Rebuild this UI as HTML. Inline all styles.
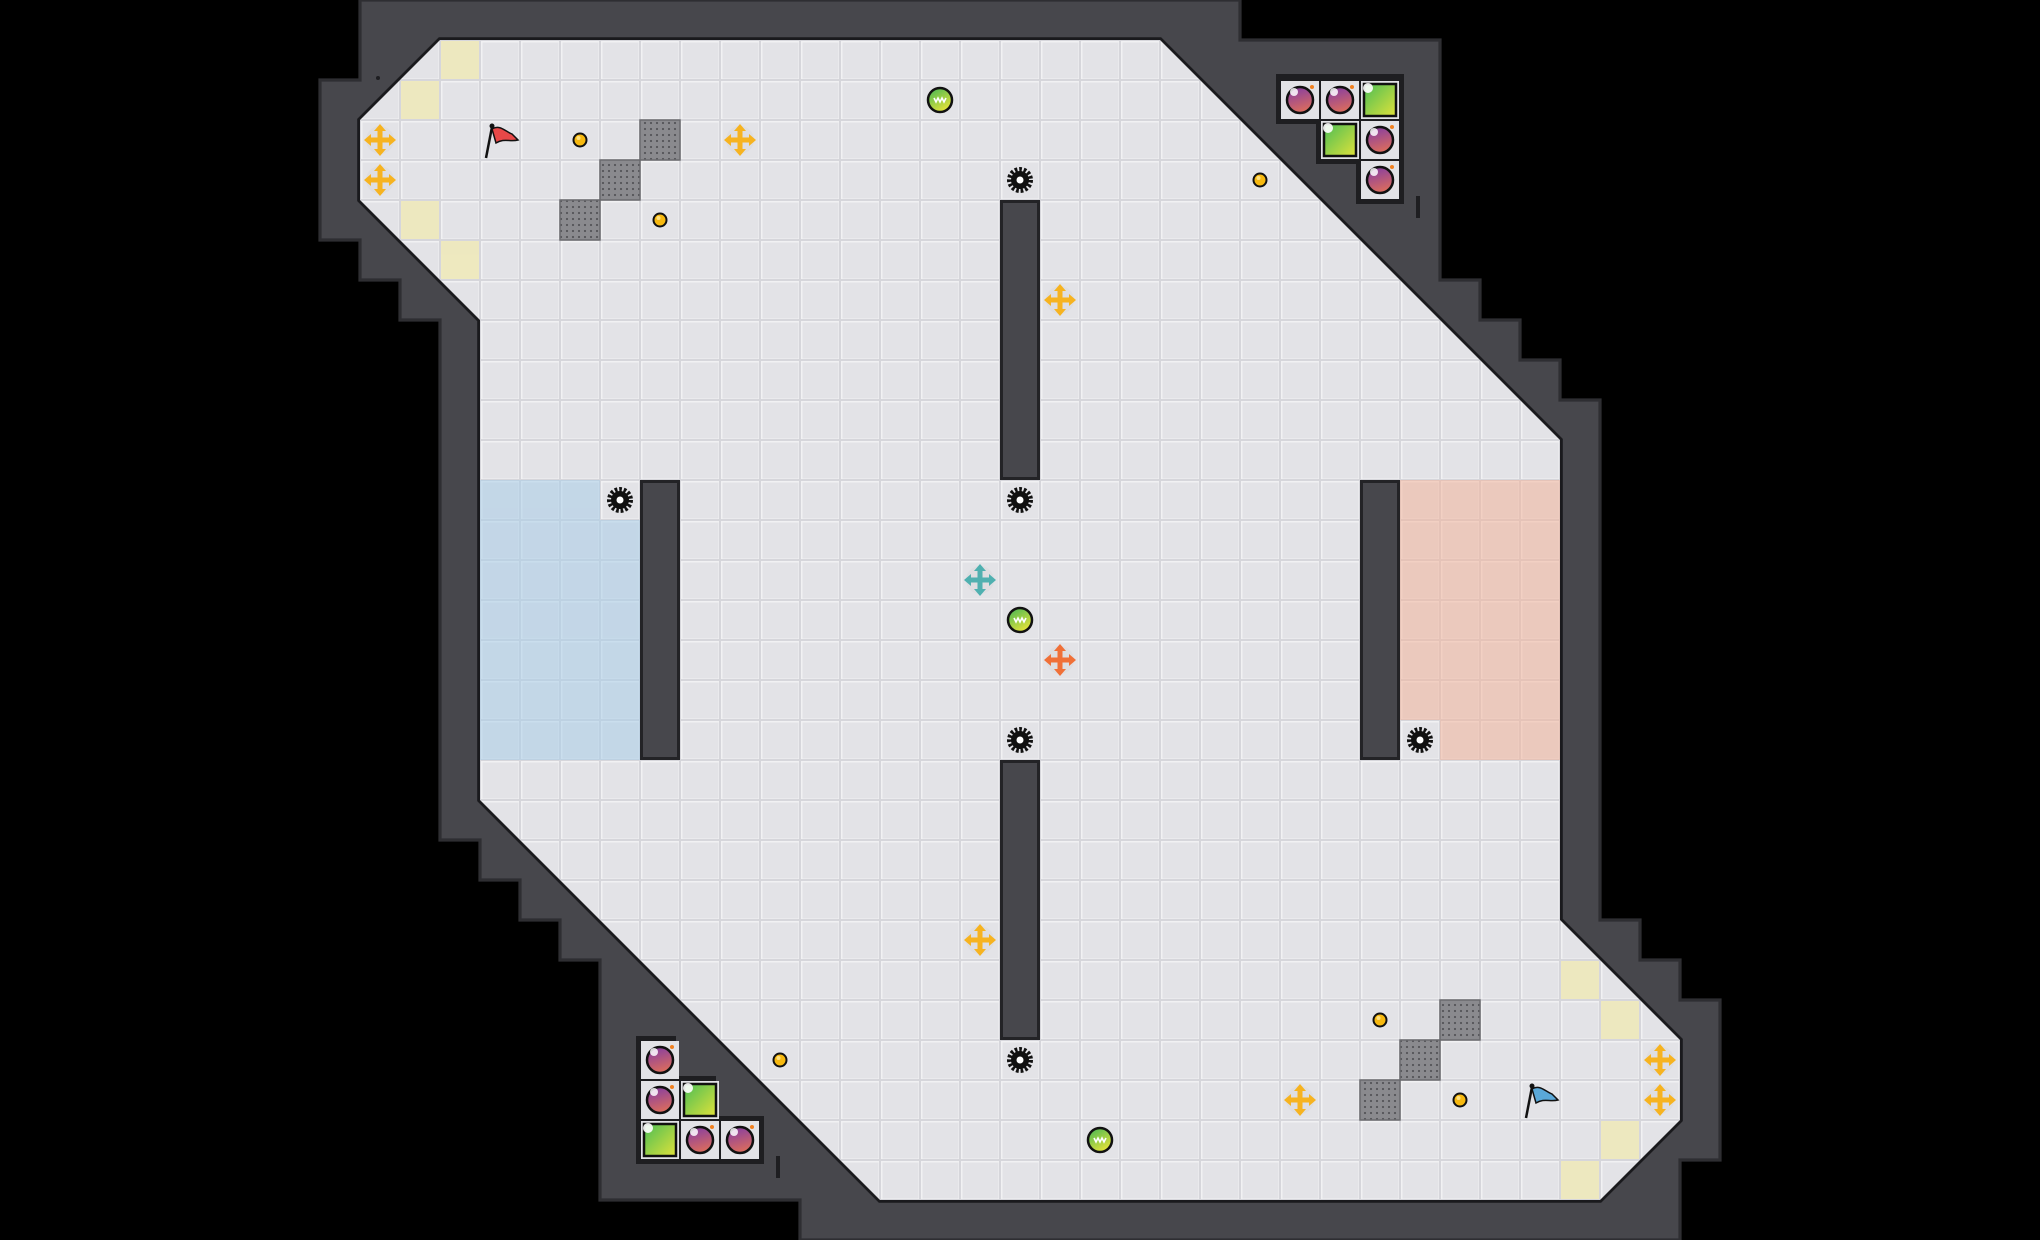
<!DOCTYPE html>
<html><head><meta charset="utf-8"><style>html,body{margin:0;padding:0;background:#000;}svg{display:block}</style></head>
<body>
<svg width="2040" height="1240" viewBox="0 0 2040 1240" xmlns="http://www.w3.org/2000/svg">
<defs>
  <pattern id="tile" width="40" height="40" patternUnits="userSpaceOnUse">
    <rect width="40" height="40" fill="#d6d6db"/>
    <rect x="1" y="1" width="38" height="38" fill="#f1f1f3"/>
    <rect x="2.5" y="2.5" width="36" height="36" fill="#e3e3e7"/>
  </pattern>
  <pattern id="grate" width="6" height="6" patternUnits="userSpaceOnUse">
    <rect width="6" height="6" fill="#8a8a8e"/>
    <circle cx="3" cy="3" r="1.1" fill="#555559"/>
  </pattern>
  <linearGradient id="gbomb" x1="0" y1="0" x2="0.3" y2="1">
    <stop offset="0" stop-color="#7e3aa8"/><stop offset="1" stop-color="#d86a60"/>
  </linearGradient>
  <linearGradient id="ggreen" x1="0" y1="0" x2="1" y2="1">
    <stop offset="0" stop-color="#4bbd55"/><stop offset="1" stop-color="#dfe23a"/>
  </linearGradient>
  <linearGradient id="gball" x1="0" y1="0" x2="0.6" y2="1">
    <stop offset="0" stop-color="#3fb456"/><stop offset="1" stop-color="#e2e23a"/>
  </linearGradient>
  <g id="bomb">
    <circle r="13" fill="url(#gbomb)" stroke="#111" stroke-width="2.5"/>
    <circle cx="-6" cy="-8" r="4" fill="#fff" opacity="0.85"/>
    <circle cx="12" cy="-13" r="2" fill="#f08020"/>
  </g>
  <g id="gsq">
    <rect x="-16" y="-16" width="32" height="32" fill="url(#ggreen)" stroke="#111" stroke-width="2.5"/>
    <circle cx="-12" cy="-12" r="5" fill="#fff" opacity="0.9"/>
  </g>
  <g id="ball">
    <circle r="12" fill="url(#gball)" stroke="#111" stroke-width="2.5"/>
    <path d="M-6,-2 l2,4 l2,-4 l2,4 l2,-4 l2,4 l2,-4" fill="none" stroke="#fff" stroke-width="1.6"/>
  </g>
  <g id="coin">
    <circle r="6.5" fill="#f7b910" stroke="#111" stroke-width="2"/>
    <circle cx="-1.5" cy="-2" r="2" fill="#ffe080"/>
  </g>
  <g id="gear">
    <circle r="10.5" fill="none" stroke="#111" stroke-width="5" stroke-dasharray="2.6 1.8"/>
    <circle r="9" fill="#111"/>
    <circle r="3.5" fill="#fff"/>
  </g>
  <g id="crossshape">
    <circle r="14" fill="#dcdce0" opacity="0.8"/>
    <rect x="-2.5" y="-11" width="5" height="22"/>
    <rect x="-11" y="-2.5" width="22" height="5"/>
    <path d="M0,-16 L-6,-9 L6,-9Z M0,16 L-6,9 L6,9Z M-16,0 L-9,-6 L-9,6Z M16,0 L9,-6 L9,6Z"/>
  </g>
</defs>

<rect width="2040" height="1240" fill="#000"/>
<g transform="scale(40)">
<polygon points="9,0 31,0 31,1 36,1 36,7 37,7 37,8 38,8 38,9 39,9 39,10 40,10 40,23 41,23 41,24 42,24 42,25 43,25 43,29 42,29 42,31 20,31 20,30 15,30 15,24 14,24 14,23 13,23 13,22 12,22 12,21 11,21 11,8 10,8 10,7 9,7 9,6 8,6 8,2 9,2" fill="#47474c" stroke="#2e2e32" stroke-width="0.08"/>
<polygon points="11,1 29,1 39,11 39,23 42,26 42,28 40,30 22,30 12,20 12,8 9,5 9,3" fill="#1a1a1d" stroke="#1a1a1d" stroke-width="0.14"/>
</g>
<polygon points="440,40 1160,40 1560,440 1560,920 1680,1040 1680,1120 1600,1200 880,1200 480,800 480,320 360,200 360,120" fill="url(#tile)"/>

<g opacity="0.55">
<rect x="480" y="480" width="120" height="40" fill="#a9cde8"/>
<rect x="480" y="520" width="160" height="240" fill="#a9cde8"/>
<rect x="1400" y="480" width="160" height="280" fill="#f2b49a"/>
</g>
<rect x="1400" y="720" width="40" height="40" fill="url(#tile)"/>
<g fill="#eee9bd" opacity="0.95">
<rect x="441" y="41" width="38" height="38"/><rect x="401" y="81" width="38" height="38"/>
<rect x="401" y="201" width="38" height="38"/><rect x="441" y="241" width="38" height="38"/>
<rect x="1561" y="961" width="38" height="38"/><rect x="1601" y="1001" width="38" height="38"/>
<rect x="1601" y="1121" width="38" height="38"/><rect x="1561" y="1161" width="38" height="38"/>
</g>
<g stroke="#6a6a6e" stroke-width="1.5">
<rect x="640" y="120" width="40" height="40" fill="url(#grate)"/>
<rect x="600" y="160" width="40" height="40" fill="url(#grate)"/>
<rect x="560" y="200" width="40" height="40" fill="url(#grate)"/>
<rect x="1440" y="1000" width="40" height="40" fill="url(#grate)"/>
<rect x="1400" y="1040" width="40" height="40" fill="url(#grate)"/>
<rect x="1360" y="1080" width="40" height="40" fill="url(#grate)"/>
</g>
<g fill="#47474c" stroke="#232326" stroke-width="3">
<rect x="1001.5" y="201.5" width="37" height="277"/>
<rect x="641.5" y="481.5" width="37" height="277"/>
<rect x="1001.5" y="761.5" width="37" height="277"/>
<rect x="1361.5" y="481.5" width="37" height="277"/>
</g>
<g fill="#1e1e21">
<polygon points="1276,74 1404,74 1404,204 1356,204 1356,164 1316,164 1316,124 1276,124"/>
<polygon points="636,1036 676,1036 676,1076 716,1076 716,1116 764,1116 764,1164 636,1164"/>
</g>
<g fill="#e3e3e7">
<rect x="1281" y="81" width="38" height="38"/><rect x="1321" y="81" width="38" height="38"/><rect x="1361" y="81" width="38" height="38"/>
<rect x="1321" y="121" width="38" height="38"/><rect x="1361" y="121" width="38" height="38"/><rect x="1361" y="161" width="38" height="38"/>
<rect x="641" y="1041" width="38" height="38"/><rect x="641" y="1081" width="38" height="38"/><rect x="681" y="1081" width="38" height="38"/>
<rect x="641" y="1121" width="38" height="38"/><rect x="681" y="1121" width="38" height="38"/><rect x="721" y="1121" width="38" height="38"/>
</g>
<use href="#bomb" x="1300" y="100"/><use href="#bomb" x="1340" y="100"/><use href="#gsq" x="1380" y="100"/>
<use href="#gsq" x="1340" y="140"/><use href="#bomb" x="1380" y="140"/><use href="#bomb" x="1380" y="180"/>
<use href="#bomb" x="660" y="1060"/><use href="#bomb" x="660" y="1100"/><use href="#gsq" x="700" y="1100"/>
<use href="#gsq" x="660" y="1140"/><use href="#bomb" x="700" y="1140"/><use href="#bomb" x="740" y="1140"/>
<rect x="1416" y="196" width="4" height="22" fill="#1e1e21"/>
<rect x="776" y="1156" width="4" height="22" fill="#1e1e21"/>
<circle cx="378" cy="78" r="2" fill="#1e1e21"/>

<use href="#coin" x="580" y="140"/><use href="#coin" x="660" y="220"/><use href="#coin" x="1260" y="180"/>
<use href="#coin" x="780" y="1060"/><use href="#coin" x="1380" y="1020"/><use href="#coin" x="1460" y="1100"/>
<use href="#ball" x="940" y="100"/><use href="#ball" x="1020" y="620"/><use href="#ball" x="1100" y="1140"/>
<use href="#gear" x="1020" y="180"/><use href="#gear" x="620" y="500"/><use href="#gear" x="1020" y="500"/>
<use href="#gear" x="1020" y="740"/><use href="#gear" x="1420" y="740"/><use href="#gear" x="1020" y="1060"/>
<g fill="#f6b320">
<use href="#crossshape" x="380" y="140"/><use href="#crossshape" x="380" y="180"/><use href="#crossshape" x="740" y="140"/>
<use href="#crossshape" x="1060" y="300"/><use href="#crossshape" x="980" y="940"/><use href="#crossshape" x="1300" y="1100"/>
<use href="#crossshape" x="1660" y="1060"/><use href="#crossshape" x="1660" y="1100"/>
</g>
<g fill="#4fb0b0"><use href="#crossshape" x="980" y="580"/></g>
<g fill="#f07038"><use href="#crossshape" x="1060" y="660"/></g>
<g transform="translate(498,140)">
<line x1="-12" y1="18" x2="-6" y2="-13" stroke="#111" stroke-width="2.5"/>
<circle cx="-6" cy="-14" r="2.5" fill="#111"/>
<path d="M-6,-11 C2,-16 8,-8 14,-6 L20,0 C12,2 6,-2 -2,3 Z" fill="#e84848" stroke="#111" stroke-width="1.5"/>
</g>
<g transform="translate(1538,1100)">
<line x1="-12" y1="18" x2="-6" y2="-13" stroke="#111" stroke-width="2.5"/>
<circle cx="-6" cy="-14" r="2.5" fill="#111"/>
<path d="M-6,-11 C2,-16 8,-8 14,-6 L20,0 C12,2 6,-2 -2,3 Z" fill="#5aa8d8" stroke="#111" stroke-width="1.5"/>
</g>
</svg>
</body></html>
